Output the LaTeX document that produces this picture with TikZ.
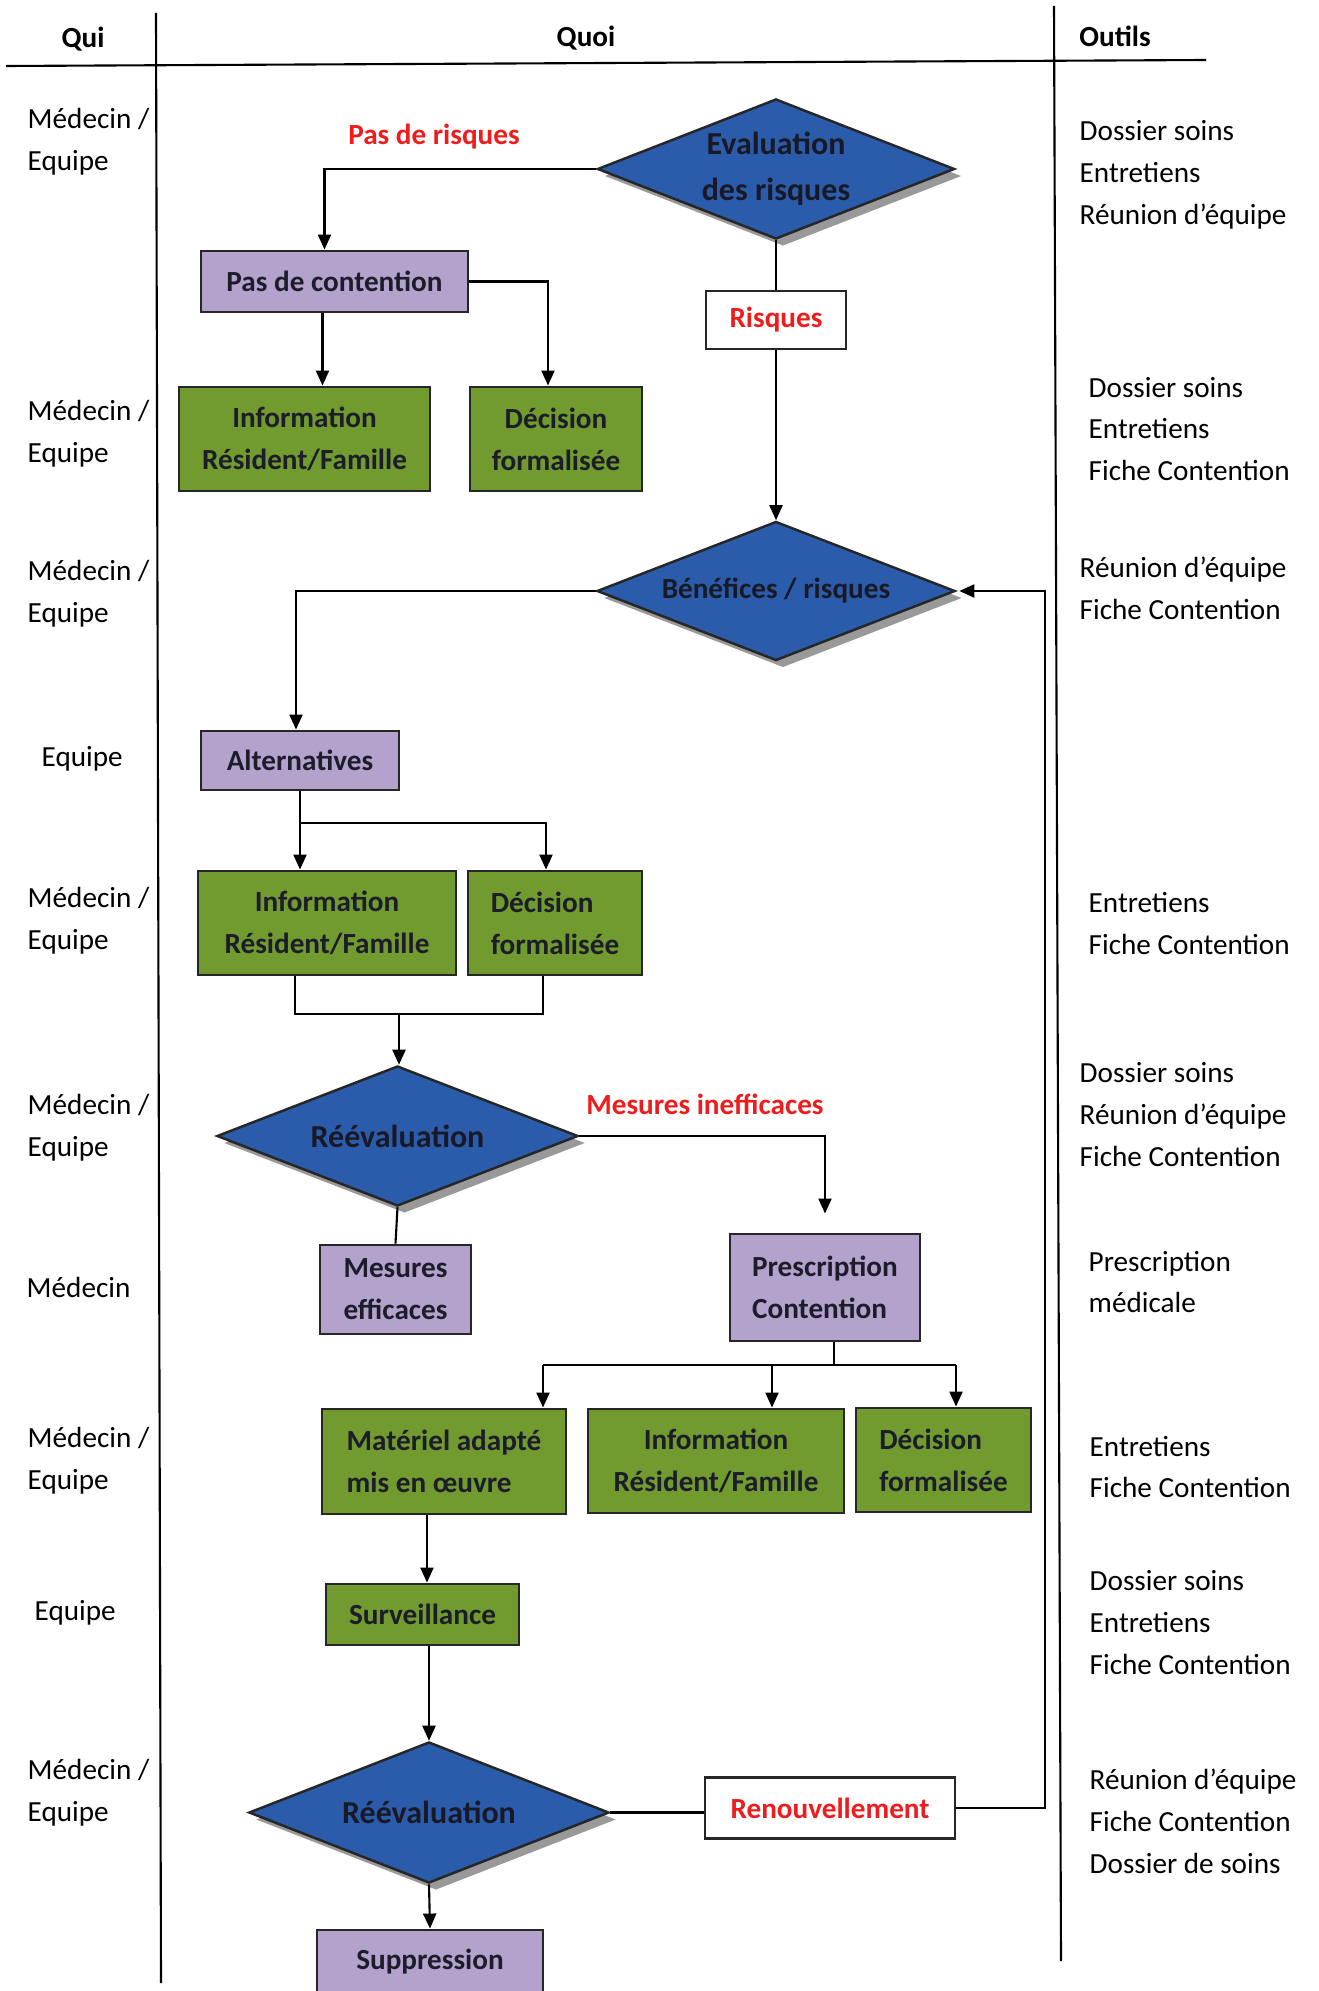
\documentclass[tikz,border=0pt]{standalone}
\usepackage{fontspec}
\setmainfont{Carlito}
\usetikzlibrary{arrows.meta,shapes.geometric,shadows}
\definecolor{diamblue}{HTML}{2B5CAB}
\definecolor{lilac}{HTML}{B3A3CC}
\definecolor{olive}{HTML}{719A2F}
\definecolor{textdark}{HTML}{1C1C2A}
\definecolor{labelred}{HTML}{EE1C1C}
\begin{document}
\begin{tikzpicture}[x=0.01cm,y=-0.01cm,
    font=\fontsize{8.3}{11.9}\selectfont,
    >={Triangle[length=1.5mm,width=1.3mm]},
    every node/.style={inner sep=0pt},
    box/.style={draw=black!85,line width=0.8pt,text=textdark,
      font=\fontsize{8.3}{11.9}\selectfont\bfseries,align=center},
    lilacbox/.style={box,fill=lilac},
    greenbox/.style={box,fill=olive},
    whitebox/.style={box,fill=white,text=labelred},
    decision/.style={diamond,aspect=2.55,draw=black!85,line width=0.7pt,fill=diamblue,
      text=textdark!90!black,font=\fontsize{9.1}{13}\selectfont\bfseries,align=center,
      drop shadow={shadow xshift=0.7mm,shadow yshift=-0.7mm,fill=gray!80,opacity=1}},
    redlabel/.style={text=labelred,font=\fontsize{8.3}{11.9}\selectfont\bfseries},
    head/.style={font=\fontsize{8.3}{11.9}\selectfont\bfseries},
    who/.style={anchor=west,align=left},
    tools/.style={anchor=west,align=left}]
  \useasboundingbox (0,0) rectangle (1319,1991);
  \clip (0,0) rectangle (1319,1991);
  \begin{scope}[line width=0.6pt]
    \draw (6,66) -- (1206,60);
    \draw (156,13) -- (161,1983);
    \draw (1054,6) -- (1061,1961);
  \end{scope}
  \draw
    (83,39) node[head] (qui){Qui}
    (586,38) node[head] (quoi){Quoi}
    (1115,36) node[head] (outils){Outils};
  \draw
    (27,141.5) node[who] (who1){Médecin /\\Equipe}
    (27,433.5) node[who] (who2){Médecin /\\Equipe}
    (27,593.5) node[who] (who3){Médecin /\\Equipe}
    (41,759) node[who] (who4){Equipe}
    (27,921) node[who] (who5){Médecin /\\Equipe}
    (27,1128) node[who] (who6){Médecin /\\Equipe}
    (26,1287) node[who] (who7){Médecin}
    (27,1460.5) node[who] (who8){Médecin /\\Equipe}
    (34,1613) node[who] (who9){Equipe}
    (27,1793) node[who] (who10){Médecin /\\Equipe};
  \draw
    (1079,174.5) node[tools] (tool1){Dossier soins\\Entretiens\\Réunion d’équipe}
    (1088,429) node[tools] (tool2){Dossier soins\\Entretiens\\Fiche Contention}
    (1079,588) node[tools] (tool3){Réunion d’équipe\\Fiche Contention}
    (1088,923.5) node[tools] (tool4){Entretiens\\Fiche Contention}
    (1079,1114.5) node[tools] (tool5){Dossier soins\\Réunion d’équipe\\Fiche Contention}
    (1088,1282) node[tools] (tool6){Prescription\\médicale}
    (1089,1467) node[tools] (tool7){Entretiens\\Fiche Contention}
    (1089,1622.5) node[tools] (tool8){Dossier soins\\Entretiens\\Fiche Contention}
    (1089,1821) node[tools] (tool9){Réunion d’équipe\\Fiche Contention\\Dossier de soins};
  \draw
    (776,169) node[decision,minimum width=35.7mm,minimum height=14mm] (eval){Evaluation\\des risques}
    (776,591) node[decision,minimum width=35.8mm,minimum height=13.9mm,font=\fontsize{8.3}{13}\selectfont\bfseries] (bene){Bénéfices / risques}
    (397.5,1136) node[decision,minimum width=36.1mm,minimum height=14mm] (reev1){Réévaluation}
    (429,1812.5) node[decision,minimum width=36mm,minimum height=14.1mm] (reev2){Réévaluation};
  \draw
    (334.5,281.5) node[lilacbox,minimum width=26.7mm,minimum height=6.1mm] (pasc){Pas de contention}
    (304.5,439) node[greenbox,minimum width=25.1mm,minimum height=10.4mm] (info1){Information\\Résident/Famille}
    (556,439) node[greenbox,minimum width=17.2mm,minimum height=10.4mm] (dec1){Décision\\formalisée}
    (776,320) node[whitebox,minimum width=14mm,minimum height=5.8mm] (risk){Risques}
    (300,760.5) node[lilacbox,minimum width=19.8mm,minimum height=5.9mm] (alt){Alternatives}
    (327,923) node[greenbox,minimum width=25.8mm,minimum height=10.4mm] (info2){Information\\Résident/Famille}
    (555,923) node[greenbox,minimum width=17.4mm,minimum height=10.4mm,align=left] (dec2){Décision\\formalisée}
    (395.5,1289.5) node[lilacbox,minimum width=15.1mm,minimum height=8.9mm] (mes){Mesures\\efficaces}
    (825,1287.5) node[lilacbox,minimum width=19mm,minimum height=10.7mm,align=left] (presc){Prescription\\Contention}
    (444,1461.5) node[greenbox,minimum width=24.4mm,minimum height=10.5mm,align=left] (mat){Matériel adapté\\mis en œuvre}
    (716,1461) node[greenbox,minimum width=25.6mm,minimum height=10.4mm] (info3){Information\\Résident/Famille}
    (943.5,1460) node[greenbox,minimum width=17.5mm,minimum height=10.4mm,align=left] (dec3){Décision\\formalisée}
    (422.5,1614.5) node[greenbox,minimum width=19.3mm,minimum height=6.1mm] (surv){Surveillance}
    (830,1808) node[whitebox,minimum width=25mm,minimum height=6.1mm] (renew){Renouvellement}
    (430,1962) node[lilacbox,minimum width=22.6mm,minimum height=6.4mm] (supp){Suppression};
  \draw
    (434,137) node[redlabel] (norisk){Pas de risques}
    (705,1104) node[redlabel] (ineff){Mesures inefficaces};
  \coordinate (altsplit) at (300,823);
  \coordinate (join) at (399,1014);
  \coordinate (psplit) at (834,1365);
  \coordinate (sl) at (543,1365);
  \coordinate (sm) at (772,1365);
  \coordinate (sr) at (956,1365);
  \coordinate (back) at (1045,591);
  \begin{scope}[line width=0.6pt]
    \draw[->] (eval.west) -| ([xshift=-1mm]pasc.north);
    \draw[->] ([xshift=-1.2mm]pasc.south) -- ([xshift=-1.2mm]pasc.south |- info1.north);
    \draw[->] (pasc.east) -| ([xshift=-0.8mm]dec1.north);
    \draw (eval.south) -- (risk.north);
    \draw[->] (risk.south) -- (bene.north);
    \draw[->] (bene.west) -| ([xshift=-0.4mm]alt.north);
    \draw (alt.south) -- (altsplit);
    \draw[->] (altsplit) -- (altsplit |- info2.north);
    \draw[->] (altsplit) -| ([xshift=-0.9mm]dec2.north);
    \draw ([xshift=-3.2mm]info2.south) |- (join) -| ([xshift=-1.2mm]dec2.south);
    \draw[->] (join) -- (join |- reev1.north);
    \draw (reev1.south) -- (mes.north);
    \draw[->,shorten >=1.9mm] (reev1.east) -| (presc.north);
    \draw (psplit |- presc.south) -- (psplit);
    \draw (sl) -- (sr);
    \draw[->] (sl) -- (sl |- mat.north);
    \draw[->] (sm) -- (sm |- info3.north);
    \draw[->] (sr) -- (sr |- dec3.north);
    \draw[->] ([xshift=-1.7mm]mat.south) -- ([xshift=-1.7mm]mat.south |- surv.north);
    \draw[->] (reev2.north |- surv.south) -- (reev2.north);
    \draw (reev2.east) -- (reev2.east -| renew.west);
    \draw[->] (renew.east) -| (back) -- ([xshift=0.3mm]bene.east);
    \draw[->] (reev2.south) -- (supp.north);
  \end{scope}
\end{tikzpicture}
\end{document}
